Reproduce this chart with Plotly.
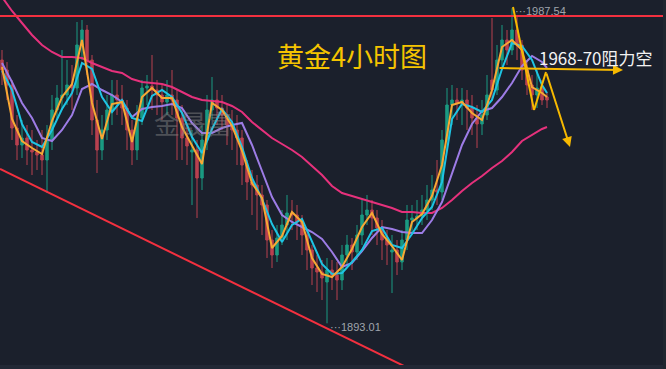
import plotly.graph_objects as go

# ---------------- candle data (4H gold) ----------------
open_ = [1972.0, 1969.0, 1964.5, 1951.6, 1946.5, 1948.6, 1945.0, 1944.4, 1943.5, 1942.0,
         1948.0, 1957.0, 1960.6, 1961.5, 1964.5, 1963.6, 1976.5, 1981.0, 1972.0, 1954.0,
         1945.0, 1951.0, 1957.0, 1961.5, 1960.0, 1957.6, 1951.0, 1945.0, 1954.6, 1963.6,
         1964.2, 1963.0, 1961.5, 1959.4, 1961.5, 1960.0, 1954.6, 1948.6, 1944.4, 1945.0,
         1936.6, 1948.0, 1957.0, 1960.0, 1957.6, 1955.5, 1952.5, 1951.0, 1948.6, 1940.5,
         1935.4, 1934.5, 1931.5, 1928.5, 1918.0, 1913.5, 1918.6, 1922.5, 1926.1, 1925.5,
         1923.4, 1919.5, 1915.0, 1909.6, 1908.4, 1905.4, 1909.0, 1907.5, 1906.0, 1913.5,
         1916.5, 1914.4, 1919.5, 1925.5, 1927.0, 1924.6, 1921.6, 1918.0, 1914.4, 1915.0,
         1911.4, 1918.0, 1924.0, 1924.6, 1925.2, 1927.0, 1930.0, 1933.0, 1932.4, 1948.0,
         1958.5, 1960.0, 1959.1, 1960.0, 1957.6, 1954.6, 1952.8, 1955.5, 1966.0, 1963.0,
         1972.0, 1978.0, 1975.0, 1981.0, 1976.5, 1969.0, 1964.5, 1961.5, 1963.6, 1960.9]
high = [1975.0, 1971.4, 1966.0, 1955.5, 1954.0, 1952.5, 1951.0, 1948.0, 1951.0, 1952.5,
        1961.5, 1964.5, 1975.0, 1972.0, 1970.5, 1983.4, 1984.0, 1982.5, 1973.5, 1960.0,
        1955.5, 1961.5, 1966.0, 1966.0, 1964.5, 1960.0, 1954.0, 1958.5, 1966.0, 1967.5,
        1973.5, 1966.0, 1964.5, 1966.0, 1969.0, 1963.0, 1958.5, 1952.5, 1951.0, 1948.0,
        1952.5, 1961.5, 1966.9, 1963.0, 1961.5, 1958.5, 1957.0, 1955.5, 1951.0, 1942.0,
        1939.0, 1937.5, 1934.5, 1930.0, 1921.0, 1922.5, 1927.0, 1931.5, 1930.0, 1928.5,
        1925.5, 1921.0, 1916.5, 1913.5, 1912.0, 1912.6, 1912.0, 1911.4, 1916.5, 1919.5,
        1918.6, 1922.5, 1930.0, 1931.5, 1930.0, 1927.0, 1924.0, 1921.0, 1919.5, 1918.0,
        1921.0, 1928.5, 1928.5, 1930.0, 1931.5, 1934.5, 1937.5, 1942.0, 1951.0, 1963.6,
        1964.5, 1963.6, 1963.6, 1963.0, 1961.5, 1958.5, 1960.0, 1967.5, 1984.6, 1976.5,
        1982.5, 1981.0, 1987.54, 1985.5, 1978.0, 1972.0, 1967.5, 1969.0, 1966.0, 1962.4]
low = [1964.5, 1960.0, 1948.0, 1942.0, 1942.6, 1940.5, 1937.5, 1939.0, 1937.5, 1932.1,
       1945.0, 1954.0, 1957.0, 1958.5, 1957.0, 1961.5, 1972.0, 1967.5, 1949.5, 1938.1,
       1942.0, 1948.0, 1952.5, 1955.5, 1952.5, 1945.0, 1940.5, 1942.0, 1952.5, 1958.5,
       1957.0, 1955.5, 1954.0, 1955.5, 1955.5, 1942.0, 1942.0, 1940.5, 1928.5, 1924.6,
       1933.0, 1945.0, 1954.0, 1952.5, 1951.0, 1946.5, 1945.0, 1940.5, 1934.5, 1930.0,
       1925.5, 1921.0, 1919.5, 1912.6, 1909.6, 1911.4, 1916.5, 1918.0, 1921.0, 1918.0,
       1913.5, 1909.0, 1904.5, 1902.4, 1900.0, 1893.01, 1903.0, 1900.0, 1903.0, 1910.5,
       1909.0, 1912.0, 1916.5, 1922.5, 1919.5, 1916.5, 1912.0, 1910.5, 1902.1, 1907.5,
       1909.0, 1915.0, 1919.5, 1921.0, 1922.5, 1924.0, 1927.0, 1928.5, 1930.0, 1945.0,
       1952.5, 1954.0, 1952.5, 1951.0, 1949.5, 1945.6, 1949.5, 1954.0, 1960.0, 1961.5,
       1969.0, 1970.5, 1973.5, 1972.0, 1966.0, 1961.5, 1957.0, 1957.6, 1958.5, 1957.6]
close = [1969.0, 1964.5, 1951.6, 1946.5, 1948.6, 1945.0, 1944.4, 1943.5, 1942.0, 1948.0,
         1957.0, 1960.6, 1961.5, 1964.5, 1963.6, 1976.5, 1981.0, 1972.0, 1954.0, 1945.0,
         1951.0, 1957.0, 1961.5, 1960.0, 1957.6, 1951.0, 1945.0, 1954.6, 1963.6, 1964.2,
         1963.0, 1961.5, 1959.4, 1961.5, 1960.0, 1954.6, 1948.6, 1946.2, 1945.0, 1936.6,
         1948.0, 1957.0, 1960.0, 1957.6, 1955.5, 1952.5, 1951.0, 1948.6, 1940.5, 1935.4,
         1934.5, 1931.5, 1928.5, 1918.0, 1913.5, 1918.6, 1922.5, 1926.1, 1925.5, 1923.4,
         1919.5, 1915.0, 1909.6, 1908.4, 1906.6, 1909.0, 1907.5, 1906.0, 1913.5, 1916.5,
         1914.4, 1919.5, 1925.5, 1927.0, 1924.6, 1921.6, 1918.0, 1916.5, 1915.0, 1911.4,
         1918.0, 1924.0, 1924.6, 1925.2, 1927.0, 1930.0, 1933.0, 1932.4, 1948.0, 1958.5,
         1960.0, 1959.1, 1960.0, 1957.6, 1954.6, 1952.8, 1955.5, 1961.5, 1963.0, 1972.0,
         1978.0, 1975.0, 1981.0, 1976.5, 1969.0, 1964.5, 1961.5, 1963.6, 1960.0, 1960.0]
bar_idx = list(range(len(close)))

# ---------------- moving-average lines (every 2nd bar) ----------------
ma_idx = list(range(0, 110, 2)) + [109]
ma_fast = [1969.9, 1954.3, 1947.7, 1945.6, 1943.8, 1953.7, 1960.9, 1964.8, 1978.0, 1959.1,
           1948.3, 1958.8, 1959.4, 1947.4, 1960.9, 1963.6, 1960.6, 1960.6, 1951.9, 1946.2,
           1940.8, 1959.1, 1957.0, 1952.2, 1944.7, 1935.1, 1930.6, 1915.6, 1919.2, 1926.4,
           1923.4, 1912.6, 1907.8, 1906.9, 1909.9, 1915.3, 1921.9, 1926.1, 1919.8, 1916.2,
           1912.0, 1923.4, 1925.8, 1931.2, 1940.5, 1958.5, 1959.4, 1956.1, 1954.0, 1963.0,
           1975.9, 1978.0, 1975.0, 1963.9, 1962.1, 1960.9]
ma_mid = [1968.7, 1963.0, 1952.8, 1947.4, 1945.9, 1951.0, 1957.3, 1962.1, 1971.1, 1969.3,
          1960.9, 1956.4, 1960.0, 1954.6, 1953.7, 1961.2, 1963.0, 1960.9, 1956.1, 1948.9,
          1944.1, 1951.3, 1957.3, 1953.4, 1945.9, 1936.6, 1930.3, 1922.8, 1917.4, 1922.5,
          1924.3, 1917.4, 1910.8, 1907.8, 1908.1, 1911.4, 1915.0, 1920.7, 1921.6, 1916.5,
          1915.6, 1919.8, 1924.6, 1927.9, 1935.4, 1954.3, 1958.8, 1957.9, 1956.4, 1960.0,
          1969.3, 1977.1, 1976.2, 1972.0, 1964.5, 1962.1]
ma_slow = [1971.1, 1965.4, 1959.1, 1954.6, 1948.6, 1947.7, 1951.0, 1955.5, 1963.3, 1964.8,
           1963.0, 1961.5, 1959.4, 1954.9, 1957.3, 1957.9, 1958.2, 1958.8, 1957.6, 1953.1,
           1950.1, 1950.1, 1951.6, 1952.5, 1953.1, 1946.5, 1938.7, 1930.9, 1925.5, 1923.4,
           1921.9, 1920.4, 1918.3, 1914.4, 1909.9, 1911.1, 1914.7, 1918.6, 1921.9, 1921.3,
           1920.4, 1920.1, 1920.1, 1924.0, 1929.4, 1937.8, 1946.5, 1952.8, 1956.7, 1957.6,
           1960.9, 1965.1, 1970.2, 1973.2, 1971.4, 1969.6]
ma_long = [1990.9, 1986.7, 1983.1, 1979.5, 1976.5, 1974.4, 1972.9, 1972.9, 1972.6, 1971.1,
           1969.9, 1968.7, 1968.1, 1966.3, 1965.4, 1965.1, 1964.8, 1963.9, 1962.4, 1960.9,
           1960.0, 1959.7, 1959.4, 1958.2, 1956.4, 1953.4, 1951.0, 1948.6, 1946.8, 1945.0,
           1942.9, 1940.2, 1937.5, 1934.2, 1932.1, 1931.2, 1930.3, 1929.4, 1928.5, 1927.6,
           1926.4, 1926.4, 1926.1, 1926.1, 1927.6, 1930.0, 1932.7, 1935.1, 1937.2, 1939.6,
           1941.7, 1944.4, 1947.7, 1949.5, 1951.3, 1951.9]

# ---------------- drawings ----------------
resistance_price = 1985.2
trend_x = [-0.4, 85.6]
trend_y = [1939.3, 1876.4]
zig_x = [102.2, 106.4, 108.8, 113.6]
zig_y = [1987.9, 1957.0, 1968.4, 1945.9]
hline_x = [99.2, 124.2]
hline_y = [1969.6, 1969.0]
high_label = "1987.54"
low_label = "1893.01"
title_text = "黄金4小时图"
note_text = "1968-70阻力空"
watermark = "金晟富"

BG = "#1b202c"
YEL = "#f7b900"

fig = go.Figure()
fig.add_trace(go.Candlestick(
    x=bar_idx, open=open_, high=high, low=low, close=close,
    increasing=dict(line=dict(color="#1a9a82", width=1), fillcolor="#1a9a82"),
    decreasing=dict(line=dict(color="#b9414f", width=1), fillcolor="#b9414f"),
    whiskerwidth=0, showlegend=False, hoverinfo="skip"))

for vals, col in [(ma_long, "#e6317c"), (ma_slow, "#9d7ce6"),
                  (ma_mid, "#1ec4e4"), (ma_fast, "#f8a834")]:
    fig.add_trace(go.Scatter(x=ma_idx, y=vals, mode="lines",
                             line=dict(color=col, width=2), showlegend=False,
                             hoverinfo="skip"))

# red horizontal resistance
fig.add_shape(type="line", xref="paper", x0=0, x1=1, yref="y",
              y0=resistance_price, y1=resistance_price,
              line=dict(color="#f3303f", width=2), layer="above")
# red descending trend line
fig.add_shape(type="line", xref="x", yref="y", x0=trend_x[0], y0=trend_y[0],
              x1=trend_x[1], y1=trend_y[1],
              line=dict(color="#f3303f", width=2), layer="above")
# yellow zigzag
for k in range(len(zig_x) - 2):
    fig.add_shape(type="line", xref="x", yref="y", x0=zig_x[k], y0=zig_y[k],
                  x1=zig_x[k + 1], y1=zig_y[k + 1],
                  line=dict(color=YEL, width=2), layer="above")
fig.add_annotation(x=zig_x[-1], y=zig_y[-1], ax=zig_x[-2], ay=zig_y[-2],
                   xref="x", yref="y", axref="x", ayref="y", text="",
                   showarrow=True, arrowhead=2, arrowsize=1, arrowwidth=2,
                   arrowcolor=YEL)
fig.add_annotation(x=hline_x[1], y=hline_y[1], ax=hline_x[0], ay=hline_y[0],
                   xref="x", yref="y", axref="x", ayref="y", text="",
                   showarrow=True, arrowhead=2, arrowsize=1, arrowwidth=2,
                   arrowcolor=YEL)

# texts
fig.add_annotation(x=352 / 666, y=1 - 56 / 369, xref="paper", yref="paper",
                   xanchor="center", yanchor="middle",
                   text=title_text, showarrow=False,
                   font=dict(family="Noto Sans CJK SC", size=27, color="#f5c400"))
fig.add_annotation(x=537 / 666, y=1 - 58 / 369, xref="paper", yref="paper",
                   xanchor="left", yanchor="middle", text=note_text, showarrow=False,
                   font=dict(family="Noto Sans CJK SC", size=17, color="#f2f2f2"))
fig.add_annotation(x=193 / 666, y=1 - 123 / 369, xref="paper", yref="paper",
                   xanchor="center", yanchor="middle",
                   text=watermark, showarrow=False, opacity=0.45,
                   font=dict(family="Noto Sans CJK SC", size=26, color="#8a8a8a"))
fig.add_annotation(x=102, y=1987.54, xref="x", yref="y", xanchor="left",
                   yanchor="middle", xshift=1, yshift=-3,
                   text="···" + high_label, showarrow=False,
                   font=dict(family="Liberation Sans", size=11, color="#a0a5ad"))
fig.add_annotation(x=65, y=1893.01, xref="x", yref="y", xanchor="left",
                   yanchor="middle", xshift=1, yshift=-4,
                   text="···" + low_label, showarrow=False,
                   font=dict(family="Liberation Sans", size=11, color="#a0a5ad"))

# bottom / right frame strips
fig.add_shape(type="rect", xref="paper", yref="paper", x0=0, x1=1, y0=0, y1=4 / 369,
              fillcolor="#222835", line=dict(width=0), layer="above")
fig.add_shape(type="rect", xref="paper", yref="paper", x0=663 / 666, x1=1, y0=0, y1=1,
              fillcolor="#20262f", line=dict(width=0), layer="above")

fig.update_layout(
    width=666, height=369, margin=dict(l=0, r=0, t=0, b=0),
    paper_bgcolor=BG, plot_bgcolor=BG, showlegend=False,
    xaxis=dict(range=[-0.4, 132.8], visible=False, rangeslider=dict(visible=False),
               fixedrange=True),
    yaxis=dict(range=[1990 - 0.3 * 369, 1990], visible=False, fixedrange=True),
)
fig.write_html("out.html", config={"displayModeBar": False},
               post_script="document.body.style.margin='0';document.body.style.background='#1b202c';")
